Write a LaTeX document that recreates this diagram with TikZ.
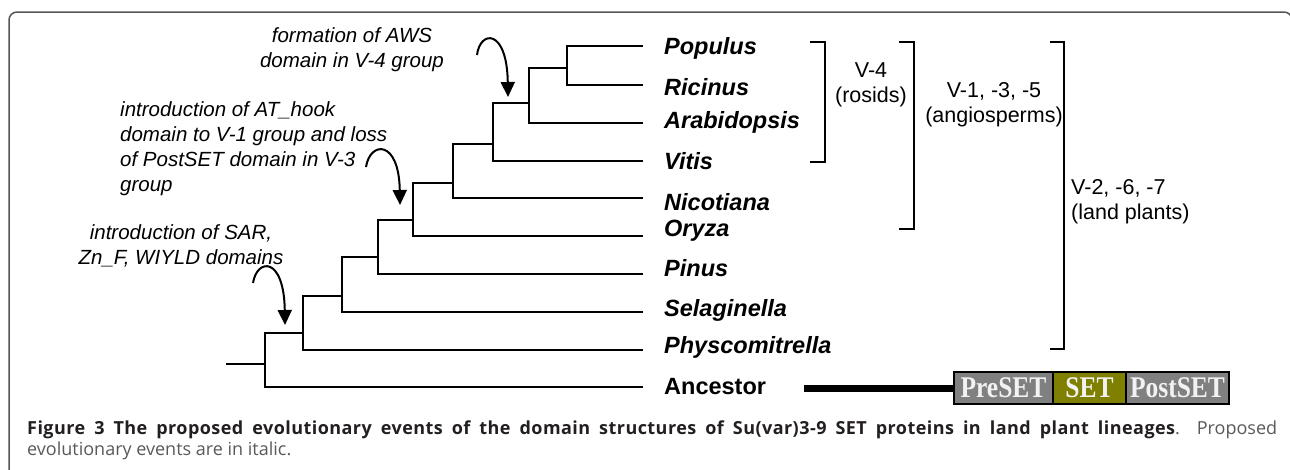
\documentclass[tikz,border=0pt]{standalone}
\usepackage{fontspec}
\setmainfont{Liberation Sans}
\newfontfamily\domainfont[FakeStretch=0.85]{Liberation Serif}
\newfontfamily\captionfont{Open Sans}
\usepackage{xcolor}
\usetikzlibrary{arrows.meta,positioning}

\definecolor{framegray}{RGB}{85,85,85}
\definecolor{domaingray}{RGB}{128,128,128}
\definecolor{domainolive}{RGB}{128,128,0}
\definecolor{captiongray}{RGB}{88,89,91}
\definecolor{captionblack}{RGB}{35,31,32}

\tikzset{
  branch/.style={line width=2pt},
  taxon/.style={anchor=west, inner sep=0pt, font=\fontsize{23.5}{26}\selectfont\bfseries\itshape},
  clade/.style={align=center, inner sep=0pt, font=\fontsize{21.5}{25}\selectfont},
  event/.style={align=center, inner sep=0pt, font=\fontsize{20.5}{25}\selectfont\itshape},
  domainbox/.style={draw=black, line width=2pt, outer sep=0pt, inner sep=0pt, minimum height=32pt,
    text=white!95!black, font=\domainfont\fontsize{30}{30}\selectfont\bfseries},
  captiontext/.style={anchor=base west, inner sep=0pt, font=\captionfont\fontsize{18}{21}\selectfont},
}

\begin{document}
\begin{tikzpicture}[x=1pt, y=-1pt, >={Triangle[length=15pt,width=14pt]}]
            \useasboundingbox (0,0) rectangle (1290,469);
            % frame
            \draw[framegray, line width=1.5pt, rounded corners=8pt] (9,475) -- (9,12) -- (1292,12) -- (1292,475);
            % inner nodes of the tree
            \coordinate (stem) at (226,364);
            \coordinate (n0) at (265,364);
            \coordinate (n8) at (303,333);
            \coordinate (n7) at (342,296);
            \coordinate (n6) at (378,257);
            \coordinate (n5) at (413,220);
            \coordinate (n4) at (453,183);
            \coordinate (n3) at (493,144);
            \coordinate (n2) at (529,103);
            \coordinate (n1) at (567,68);
            % leaves and their names
            \foreach \i/\ly/\ty/\name in {1/46/48/Populus, 2/85/87/Ricinus, 3/123/122/Arabidopsis,
                4/161/161/Vitis, 5/198/202/Nicotiana, 6/236/231/Oryza, 7/274/268/Pinus,
                8/312/310/Selaginella, 9/350/347/Physcomitrella} {
              \coordinate (l\i) at (643,\ly);
              \node[taxon] (\name) at (664,\ty) {\name};
            }
            \coordinate (l10) at (643,387);
            \node[taxon, font=\fontsize{23.5}{26}\selectfont\bfseries] (ancestor) at (664,387) {Ancestor};
            % branches
            \draw[branch] (stem) -- (n0);
            \foreach \p/\c in {n0/n8, n0/l10, n8/n7, n8/l9, n7/n6, n7/l8, n6/n5, n6/l7,
                n5/n4, n5/l6, n4/n3, n4/l5, n3/n2, n3/l4, n2/n1, n2/l3, n1/l1, n1/l2}
              \draw[branch] (\p) |- (\c);
            % groups
            \draw[branch] (810,42) -| (825,162) -- (810,162);
            \draw[branch] (899,42) -| (914,229) -- (899,229);
            \draw[branch] (1050,42) -| (1064,349) -- (1050,349);
            \node[clade] (rosids) at (871,85) {V-4\\(rosids)};
            \node[clade] (angio) at (994,105) {V-1, -3, -5\\(angiosperms)};
            \node[clade, align=left, anchor=west] (land) at (1071,202) {V-2, -6, -7\\(land plants)};
            % ancestral domain structure
            \node[domainbox, fill=domaingray, minimum width=99pt] (preset) at (1003.5,388) {PreSET};
            \node[domainbox, fill=domainolive, minimum width=73pt, right=0pt of preset] (set) {SET};
            \node[domainbox, fill=domaingray, minimum width=103pt, right=0pt of set] (postset) {PostSET};
            \coordinate (bar) at (804,388);
            \draw[line width=7pt] (bar) -- (preset.west);
            % proposed events
            \node[event] (aws) at (352,49.5) {formation of AWS\\domain in V-4 group};
            \node[event, align=left, anchor=west] (athook) at (120,148.5)
              {introduction of AT\_hook\\domain to V-1 group and loss\\of PostSET domain in V-3\\group};
            \node[event] (sar) at (181,245.5) {introduction of SAR,\\Zn\_F, WIYLD domains};
            \coordinate (aws tip) at (508,97);
            \coordinate (athook tip) at (400,205);
            \coordinate (sar tip) at (285,325);
            \draw[->, line width=2pt] (477,55) .. controls (480,30) and (507,28) .. (aws tip);
            \draw[->, line width=2pt] (366,167) .. controls (370,141) and (399,139) .. (athook tip);
            \draw[->, line width=2pt] (253,283) .. controls (257,258) and (284,256) .. (sar tip);
            % caption
            \node[captiontext] (caption) at (27,434)
              {\hbox to 1250pt{\textcolor{captionblack}{\bfseries\addfontfeature{LetterSpace=2.5}Figure 3 The proposed evolutionary events of the domain structures of Su(var)3-9 SET proteins in land plant lineages}\textcolor{captiongray}{. Proposed}}};
            \node[captiontext, text=captiongray] (caption2) at (27,455) {evolutionary events are in italic.};
\end{tikzpicture}
\end{document}
